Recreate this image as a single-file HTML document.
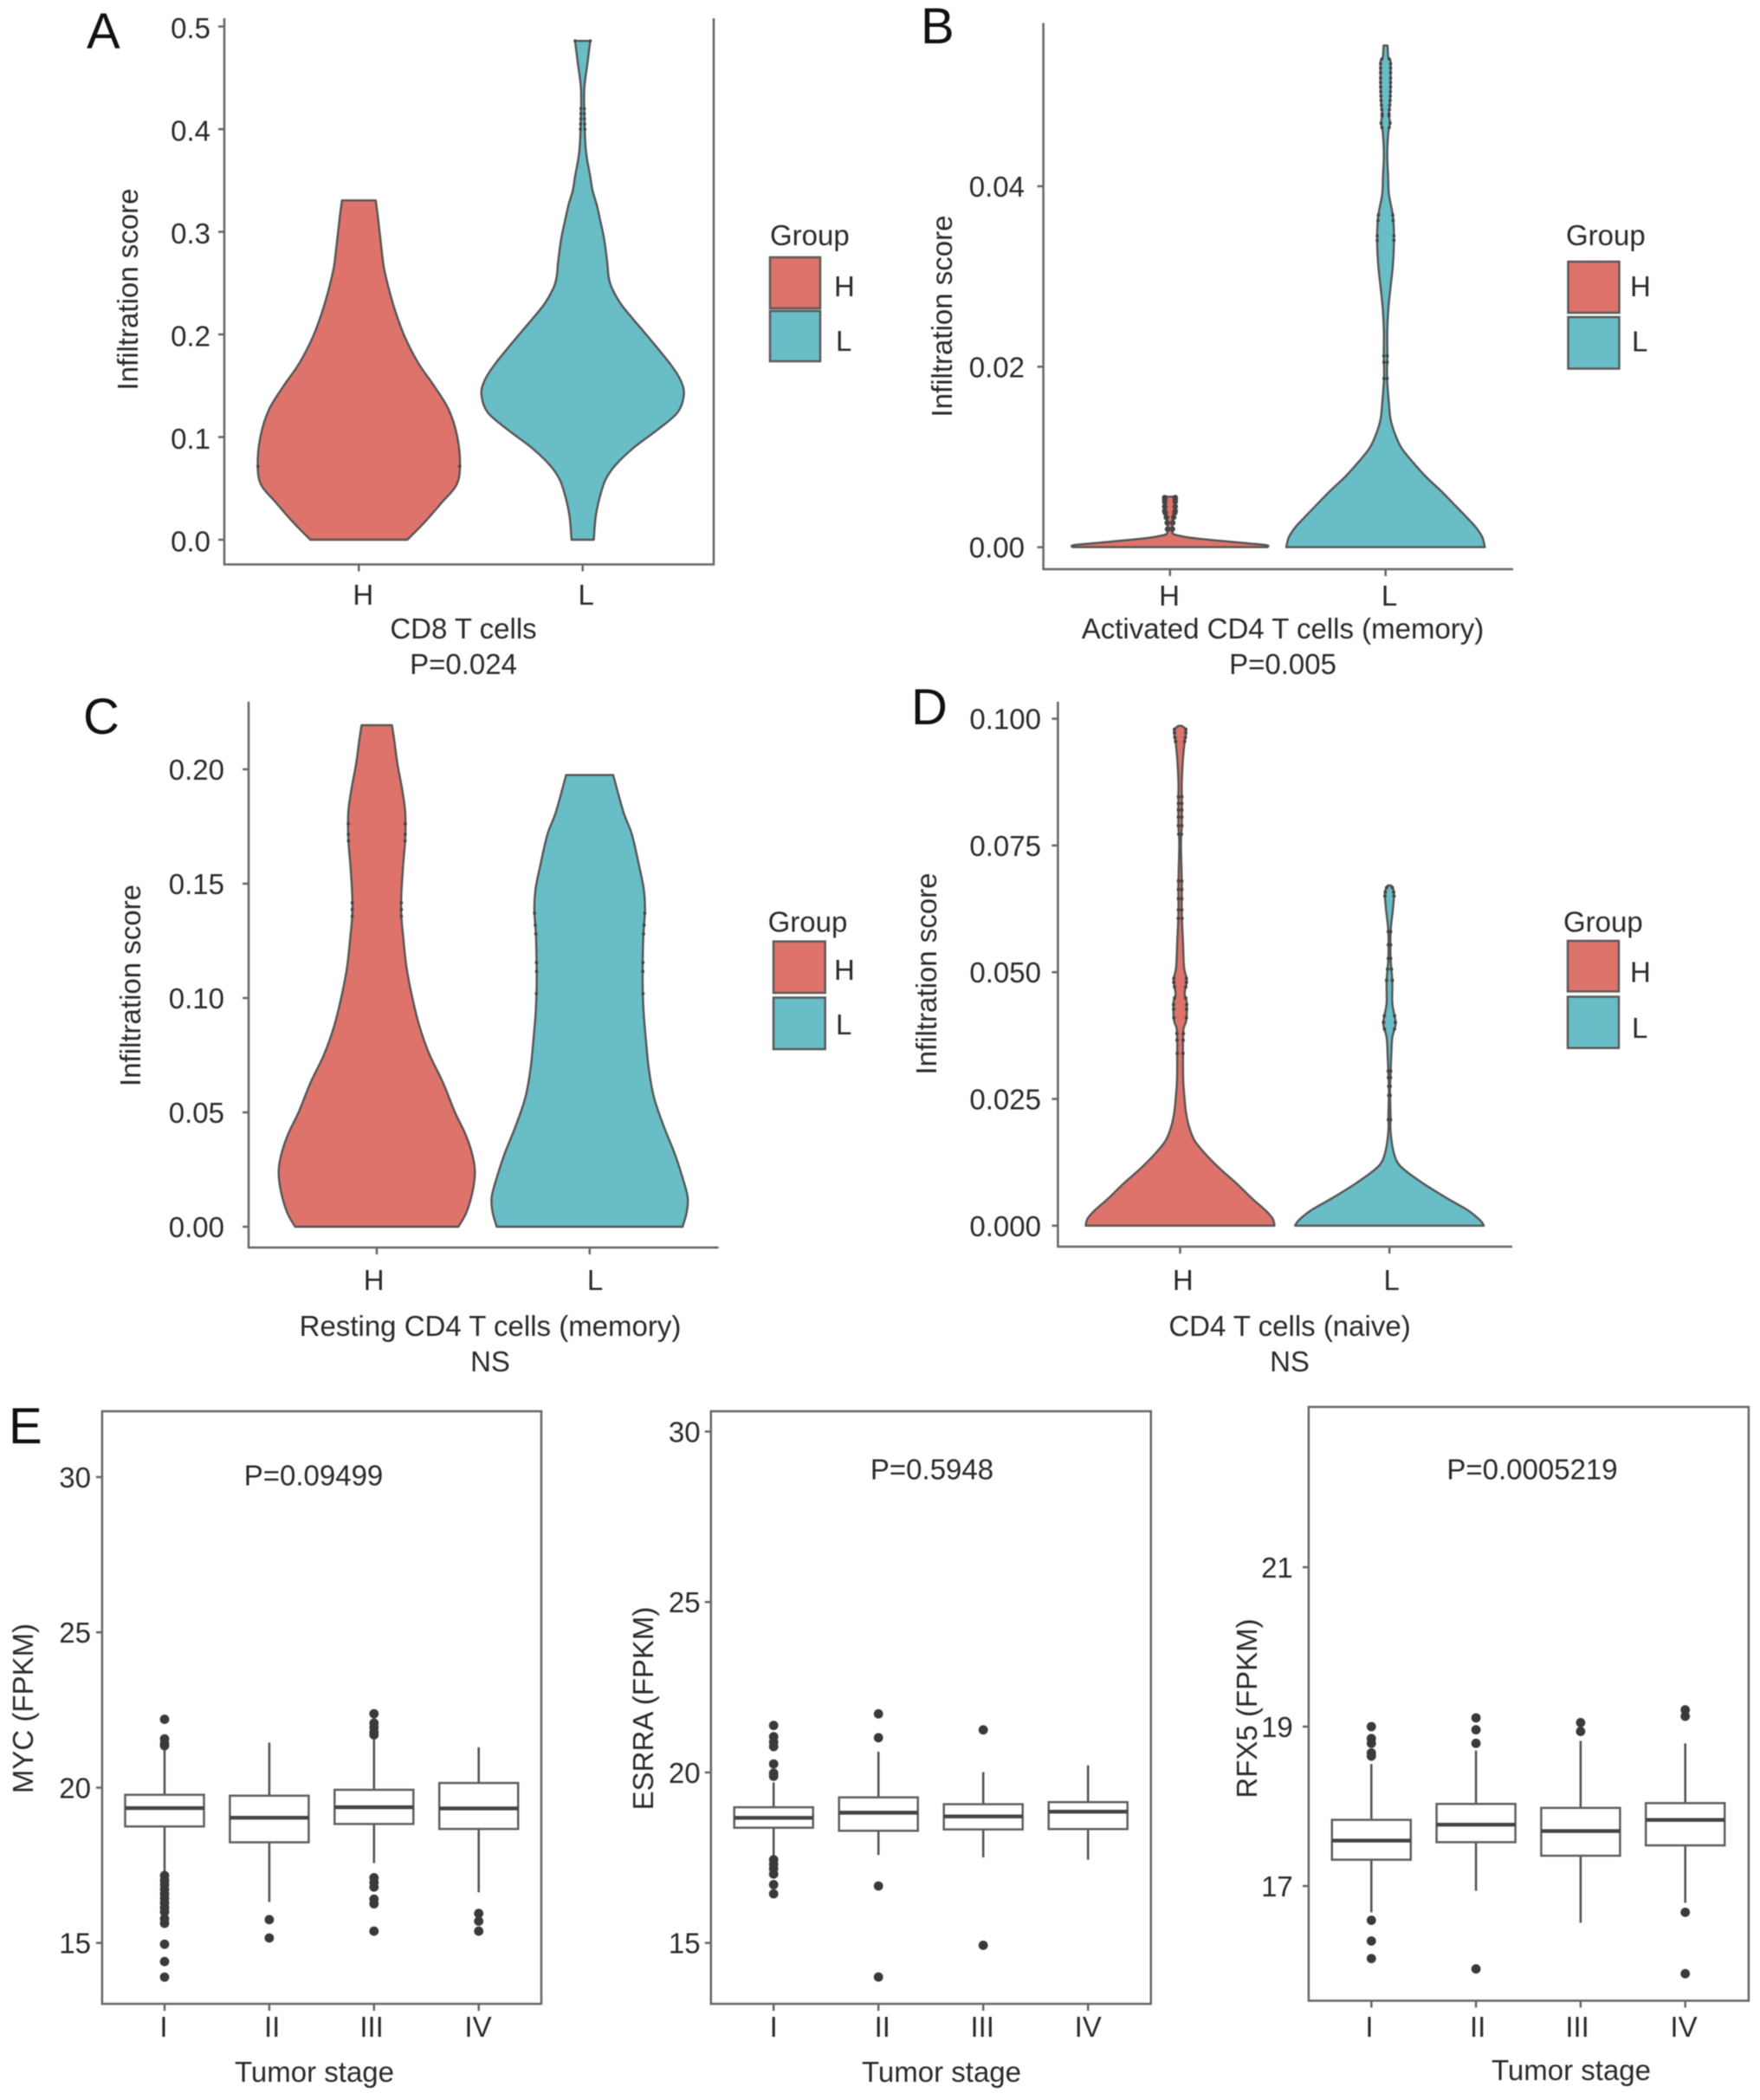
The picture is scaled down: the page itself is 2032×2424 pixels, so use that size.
<!DOCTYPE html>
<html lang="en">
<head>
<meta charset="utf-8">
<title>Immune infiltration violin plots and tumor stage box plots</title>
<style>
html,body{margin:0;padding:0;background:#fff;}
svg{display:block;filter:blur(0.6px);}
text{font-family:"Liberation Sans",Arial,sans-serif;font-size:33px;fill:#2b2b2b;}
.letter{font-size:58px;fill:#111;}
.axis{stroke:#666;stroke-width:2.5;fill:none;}
.mid{text-anchor:middle;}
.h{fill:#de736b;stroke:#5a5a5a;stroke-width:2.5;}
.l{fill:#69bdc6;stroke:#5a5a5a;stroke-width:2.5;}
</style>
</head>
<body>
<svg id="figure" width="2032" height="2424" viewBox="0 0 2032 2424" xmlns="http://www.w3.org/2000/svg">
<rect x="0" y="0" width="2032" height="2424" fill="#fff"/>

<text class="letter" x="100" y="56">A</text>
<text class="letter" x="1063" y="50">B</text>
<text class="letter" x="96" y="847">C</text>
<text class="letter" x="1052" y="836">D</text>
<text class="letter" x="10" y="1666">E</text>

<path class="axis" d="M259 21V651.5H824V21"/>
<path class="axis" d="M1204.6 26.5V657H1747"/>
<path class="axis" d="M287 810V1440H829.6"/>
<path class="axis" d="M1221.4 810V1439H1746"/>
<rect class="axis" x="117.9" y="1629" width="507.1" height="684"/>
<rect class="axis" x="820.8" y="1629" width="508" height="684"/>
<rect class="axis" x="1510.9" y="1624" width="508" height="685.4"/>

<text class="mid" transform="translate(159 334) rotate(-90)">Infiltration score</text>
<text class="mid" transform="translate(1099 365) rotate(-90)">Infiltration score</text>
<text class="mid" transform="translate(162 1137.5) rotate(-90)">Infiltration score</text>
<text class="mid" transform="translate(1081 1124) rotate(-90)">Infiltration score</text>
<text class="mid" transform="translate(38 1972) rotate(-90)">MYC (FPKM)</text>
<text class="mid" transform="translate(754 1972) rotate(-90)">ESRRA (FPKM)</text>
<text class="mid" transform="translate(1451 1972) rotate(-90)">RFX5 (FPKM)</text>

<text class="mid" x="535" y="737">CD8 T cells</text>
<text class="mid" x="535" y="778">P=0.024</text>
<text class="mid" x="1481" y="737">Activated CD4 T cells (memory)</text>
<text class="mid" x="1481" y="778">P=0.005</text>
<text class="mid" x="566" y="1542">Resting CD4 T cells (memory)</text>
<text class="mid" x="566" y="1583">NS</text>
<text class="mid" x="1489" y="1542">CD4 T cells (naive)</text>
<text class="mid" x="1489" y="1583">NS</text>

<text class="mid" x="363" y="2403">Tumor stage</text>
<text class="mid" x="1087" y="2403">Tumor stage</text>
<text class="mid" x="1814" y="2401">Tumor stage</text>
<text class="mid" x="362" y="1714.5">P=0.09499</text>
<text class="mid" x="1076" y="1707.7">P=0.5948</text>
<text class="mid" x="1769" y="1707.7">P=0.0005219</text>

<g>
<text x="889" y="283">Group</text>
<rect class="h" x="889" y="297" width="58" height="59"/>
<rect class="l" x="889" y="359" width="58" height="58"/>
<text x="963" y="342">H</text>
<text x="965" y="405">L</text>
</g>
<g>
<text x="1808" y="283">Group</text>
<rect class="h" x="1810.5" y="302" width="59" height="59"/>
<rect class="l" x="1810.5" y="366" width="59" height="59.5"/>
<text x="1882" y="342">H</text>
<text x="1884" y="405.6">L</text>
</g>
<g>
<text x="886.6" y="1075.5">Group</text>
<rect class="h" x="893" y="1086.7" width="59.7" height="59.3"/>
<rect class="l" x="893" y="1151.5" width="59.7" height="59.5"/>
<text x="963" y="1131">H</text>
<text x="965" y="1194">L</text>
</g>
<g>
<text x="1805" y="1075.5">Group</text>
<rect class="h" x="1810" y="1086" width="59" height="58.4"/>
<rect class="l" x="1810" y="1150.5" width="59" height="59.2"/>
<text x="1882" y="1133.5">H</text>
<text x="1884" y="1198">L</text>
</g>
</svg>

<script>
// ---- category and tick labels ----
const groupCategories = ['H', 'L'];
const stageCategories = ['I', 'II', 'III', 'IV'];
const ticksA = ['0.0', '0.1', '0.2', '0.3', '0.4', '0.5'];
const ticksB = ['0.00', '0.02', '0.04'];
const ticksC = ['0.00', '0.05', '0.10', '0.15', '0.20'];
const ticksD = ['0.000', '0.025', '0.050', '0.075', '0.100'];
const ticksE1 = ['15', '20', '25', '30'];
const ticksE2 = ['15', '20', '25', '30'];
const ticksE3 = ['17', '19', '21'];

// ---- violin profiles: score grid and relative density ----
const scoreAH = [0, .0169, .0366, .0535, .0732, .1013, .1266, .1491, .1716, .197, .2195, .242, .2645, .2842, .3123, .3306];
const densityAH = [.48, .649, .823, .966, 1, .971, .889, .749, .591, .457, .371, .303, .249, .223, .191, .167];
const scoreAL = [0, .0225, .0422, .0591, .0732, .09, .1069, .1238, .1407, .1548, .1716, .1998, .2279, .2448, .256, .2701, .2926, .3123, .3264, .3405, .354, .37, .384, .414, .44, .466, .486];
const densityAL = [.11, .129, .171, .229, .329, .509, .737, .937, 1, .971, .863, .629, .391, .291, .257, .243, .213, .171, .139, .097, .075, .045, .028, .017, .017, .05, .075];
const scoreBH = [0, .00022, .00048, .00096, .00128, .0015, .0021, .003, .004, .0056];
const densityBH = [.98, .97, .73, .27, .09, .03, .024, .03, .053, .053];
const scoreBL = [0, .0011, .0021, .003, .0046, .0062, .0078, .0094, .011, .0126, .0142, .0158, .0174, .019, .0215, .0239, .0264, .0288, .0313, .0342, .0367, .0391, .0411, .0435, .046, .047, .0479, .0494, .0509, .0538, .0543, .0556];
const densityBL = [1, .974, .916, .843, .703, .561, .407, .276, .16, .093, .05, .035, .023, .015, .018, .017, .028, .05, .074, .085, .074, .034, .026, .017, .028, .045, .034, .045, .05, .05, .028, .02];
const scoreCH = [0, .0061, .0149, .0237, .0313, .0402, .0503, .0629, .0755, .0881, .1008, .1134, .126, .1361, .145, .1576, .1696, .1812, .1909, .2025, .2122, .2193];
const densityCH = [.832, .912, .974, 1, .975, .906, .794, .676, .535, .432, .359, .303, .271, .25, .25, .268, .29, .29, .26, .21, .18, .155];
const scoreCL = [0, .0061, .0124, .0187, .0313, .0439, .0566, .0692, .0818, .0944, .1071, .126, .1386, .1475, .1576, .1716, .1812, .1975];
const densityCL = [.947, .988, 1, .966, .872, .755, .655, .602, .573, .549, .54, .546, .564, .552, .505, .43, .345, .24];
const scoreDH = [0, .0014, .0031, .0054, .0083, .0111, .014, .0168, .0197, .0225, .0253, .0282, .031, .033, .0353, .0388, .0405, .044, .0458, .0484, .051, .0562, .0615, .0676, .0754, .0789, .085, .0876, .092, .0955, .0968, .0979, .0986];
const densityDH = [1, .98, .9, .76, .6, .43, .275, .153, .092, .061, .046, .034, .031, .031, .03, .036, .065, .07, .048, .07, .042, .03, .018, .018, .009, .018, .018, .018, .03, .048, .06, .06, .018];
const scoreDL = [0, .0011, .0031, .0054, .0083, .0111, .0128, .0151, .0174, .0197, .0214, .0266, .0301, .0339, .0371, .0397, .0414, .044, .0484, .0527, .058, .0623, .065, .0663, .0671];
const densityDL = [1, .96, .825, .61, .36, .153, .076, .037, .018, .009, .012, .006, .012, .02, .03, .065, .054, .03, .03, .012, .012, .036, .048, .042, .018];

// ---- individual points drawn at the violin edges ----
const pointsAH = [.0715];
const pointsAL = [.486, .42, .415, .41, .405, .40];
const pointsBH = [.0055, .0053, .005, .0045, .004, .0038, .0033, .0027, .002];
const pointsBL = [.0541, .0536, .0531, .0526, .052, .0515, .051, .0505, .05, .0495, .049, .0485, .048, .0478, .047, .0465, .0368, .0362, .0345, .034, .0212, .0205, .0187];
const pointsCH = [.1762, .1716, .1687, .1416, .1387, .1358];
const pointsCL = [.1371, .1319, .128, .1155, .1116, .1019];
const pointsDH = [.0979, .0972, .0963, .0955, .0846, .0833, .082, .0806, .0789, .0772, .068, .0663, .0645, .0623, .0606, .0488, .048, .0471, .0449, .0436, .0427, .041, .0379, .0366, .034];
const pointsDL = [.0667, .0658, .065, .058, .0554, .0527, .0506, .0484, .0414, .0401, .0388, .0305, .0292, .0275, .0257, .0209];

// ---- box plot summaries per stage: [I, II, III, IV] ----
const whiskerHighE1 = [21.28, 21.45, 21.57, 21.3];
const q3E1 = [19.77, 19.74, 19.93, 20.15];
const medianE1 = [19.34, 19.03, 19.37, 19.33];
const q1E1 = [18.75, 18.24, 18.83, 18.67];
const whiskerLowE1 = [17.24, 16.32, 17.57, 16.63];
const outliersE1StageI = [22.2, 21.57, 21.42, 21.35, 17.17, 17.02, 16.88, 16.73, 16.58, 16.44, 16.29, 16.14, 16, 15.78, 15.63, 14.96, 14.4, 13.9];
const outliersE1StageII = [15.75, 15.16];
const outliersE1StageIII = [22.38, 22.08, 21.94, 21.79, 21.7, 17.1, 16.95, 16.8, 16.41, 16.26, 15.38];
const outliersE1StageIV = [15.95, 15.7, 15.38];

const whiskerHighE2 = [19.71, 20.61, 20.01, 20.21];
const q3E2 = [18.98, 19.27, 19.07, 19.13];
const medianE2 = [18.67, 18.82, 18.71, 18.85];
const q1E2 = [18.38, 18.29, 18.33, 18.34];
const whiskerLowE2 = [17.51, 17.58, 17.51, 17.44];
const outliersE2StageI = [21.38, 21.05, 20.89, 20.76, 20.25, 19.98, 19.89, 17.44, 17.31, 17.18, 17.02, 16.71, 16.44];
const outliersE2StageII = [21.72, 21.02, 16.67, 14];
const outliersE2StageIII = [21.25, 14.93];
const outliersE2StageIV = [];

const whiskerHighE3 = [18.53, 18.7, 18.82, 18.79];
const q3E3 = [17.83, 18.03, 17.98, 18.04];
const medianE3 = [17.57, 17.77, 17.69, 17.83];
const q1E3 = [17.33, 17.55, 17.38, 17.51];
const whiskerLowE3 = [16.67, 16.94, 16.54, 16.79];
const outliersE3StageI = [19, 18.85, 18.79, 18.67, 18.63, 16.57, 16.31, 16.09];
const outliersE3StageII = [19.11, 18.96, 18.79, 15.96];
const outliersE3StageIII = [19.05, 18.94];
const outliersE3StageIV = [19.21, 19.13, 16.67, 15.9];

const figure = document.getElementById('figure');
const NS = 'http://www.w3.org/2000/svg';

function add(parent, tag, name, attrs, text) {
  const el = document.createElementNS(NS, tag);
  
  
  for (const key in attrs) el.setAttribute(key, attrs[key]);
  if (text !== undefined) el.textContent = text;
  parent.appendChild(el);
  return el;
}

function densityAt(scores, densities, v) {
  for (let i = 1; i < scores.length; i++) {
    if (v <= scores[i]) {
      const t = (v - scores[i - 1]) / (scores[i] - scores[i - 1]);
      return densities[i - 1] + t * (densities[i] - densities[i - 1]);
    }
  }
  return densities[densities.length - 1];
}

// Smooth side of a violin through the profile points.
function smoothSegments(pts) {
  let d = '';
  for (let i = 0; i < pts.length - 1; i++) {
    const p0 = pts[Math.max(i - 1, 0)], p1 = pts[i], p2 = pts[i + 1], p3 = pts[Math.min(i + 2, pts.length - 1)];
    const k = 1 / 6;
    d += 'C' + (p1[0] + (p2[0] - p0[0]) * k).toFixed(2) + ' ' + (p1[1] + (p2[1] - p0[1]) * k).toFixed(2) + ' ' +
      (p2[0] - (p3[0] - p1[0]) * k).toFixed(2) + ' ' + (p2[1] - (p3[1] - p1[1]) * k).toFixed(2) + ' ' +
      p2[0].toFixed(2) + ' ' + p2[1].toFixed(2);
  }
  return d;
}

function drawYAxis(g, prefix, ticks, axisX, labelEnd, yOf, labelDy) {
  ticks.forEach(function (label) {
    const y = yOf(parseFloat(label));
    add(g, 'line', prefix + '-y-tick', {x1: axisX - 7, x2: axisX, y1: y, y2: y, stroke: '#666', 'stroke-width': 2.5});
    add(g, 'text', prefix + '-y-tick-label', {x: labelEnd, y: y + 12 + labelDy, 'text-anchor': 'end'}, label);
  });
}

function drawXAxis(g, prefix, cats, xOf, axisY, labelDx, labelY) {
  cats.forEach(function (label, i) {
    add(g, 'line', prefix + '-x-tick', {x1: xOf(i), x2: xOf(i), y1: axisY, y2: axisY + 8, stroke: '#666', 'stroke-width': 2.5});
    add(g, 'text', prefix + '-x-tick-label', {x: xOf(i) + labelDx[i], y: labelY, 'text-anchor': 'middle'}, label);
  });
}

function drawViolinPanel(p) {
  const g = add(figure, 'g', 'panel-' + p.id, {});
  const xOf = function (i) { return p.x0 + i * p.step; };
  const yOf = function (v) { return p.y0 - v * p.yScale; };
  drawYAxis(g, 'panel-' + p.id, p.ticks, p.axisX, p.labelEnd, yOf, p.labelDy);
  drawXAxis(g, 'panel-' + p.id, groupCategories, xOf, p.axisY, p.labelDx, p.labelY);
  p.series.forEach(function (s, i) {
    const cx = xOf(i);
    const right = s.scores.map(function (v, k) { return [cx + s.densities[k] * p.halfWidth, yOf(v)]; });
    const left = s.scores.map(function (v, k) { return [cx - s.densities[k] * p.halfWidth, yOf(v)]; }).reverse();
    const d = 'M' + right[0][0].toFixed(2) + ' ' + right[0][1].toFixed(2) + smoothSegments(right) +
      'L' + left[0][0].toFixed(2) + ' ' + left[0][1].toFixed(2) + smoothSegments(left) + 'Z';
    add(g, 'path', 'violin-' + groupCategories[i].toLowerCase(), {d: d, fill: s.fill, stroke: '#555', 'stroke-width': 2.4, 'stroke-linejoin': 'round'});
    s.points.forEach(function (v) {
      const w = densityAt(s.scores, s.densities, v) * p.halfWidth;
      add(g, 'circle', 'violin-point', {cx: cx - w, cy: yOf(v), r: s.pointRadius, fill: '#444'});
      add(g, 'circle', 'violin-point', {cx: cx + w, cy: yOf(v), r: s.pointRadius, fill: '#444'});
    });
  });
}

function drawBoxPanel(p) {
  const g = add(figure, 'g', 'panel-' + p.id, {});
  const xOf = function (i) { return p.x0 + i * p.step; };
  const yOf = function (v) { return p.yBase - (v - p.vBase) * p.yScale; };
  drawYAxis(g, 'panel-' + p.id, p.ticks, p.axisX, p.labelEnd, yOf, 0);
  drawXAxis(g, 'panel-' + p.id, stageCategories, xOf, p.axisY, p.labelDx, 2351);
  stageCategories.forEach(function (stage, i) {
    const cx = xOf(i), hw = p.boxWidth / 2;
    const name = stage.toLowerCase();
    add(g, 'line', 'whisker-' + name, {x1: cx, x2: cx, y1: yOf(p.hi[i]), y2: yOf(p.q3[i]), stroke: '#555', 'stroke-width': 2.6});
    add(g, 'line', 'whisker-' + name, {x1: cx, x2: cx, y1: yOf(p.q1[i]), y2: yOf(p.lo[i]), stroke: '#555', 'stroke-width': 2.6});
    add(g, 'rect', 'box-' + name, {x: cx - hw, y: yOf(p.q3[i]), width: p.boxWidth, height: yOf(p.q1[i]) - yOf(p.q3[i]), fill: '#fff', stroke: '#5f5f5f', 'stroke-width': 2.5});
    add(g, 'line', 'median-' + name, {x1: cx - hw, x2: cx + hw, y1: yOf(p.med[i]), y2: yOf(p.med[i]), stroke: '#444', 'stroke-width': 4.4});
    p.out[i].forEach(function (v) {
      add(g, 'circle', 'outlier-' + name, {cx: cx, cy: yOf(v), r: 5.4, fill: '#3a3a3a'});
    });
  });
}

drawViolinPanel({id: 'a', x0: 414.3, step: 258.4, y0: 623, yScale: 1184.8, halfWidth: 116.8,
  axisX: 259, axisY: 651.5, labelEnd: 243, labelY: 698, labelDx: [5, 4], labelDy: 1.5, ticks: ticksA,
  series: [
    {scores: scoreAH, densities: densityAH, points: pointsAH, fill: '#de736b', pointRadius: 1.8},
    {scores: scoreAL, densities: densityAL, points: pointsAL, fill: '#69bdc6', pointRadius: 1.8}
  ]});
drawViolinPanel({id: 'b', x0: 1350.8, step: 248.9, y0: 631.6, yScale: 10415, halfWidth: 114.7,
  axisX: 1204.6, axisY: 657, labelEnd: 1183, labelY: 699, labelDx: [-0.8, 4.3], labelDy: 0, ticks: ticksB,
  series: [
    {scores: scoreBH, densities: densityBH, points: pointsBH, fill: '#de736b', pointRadius: 3.2},
    {scores: scoreBL, densities: densityBL, points: pointsBL, fill: '#69bdc6', pointRadius: 1.9}
  ]});
drawViolinPanel({id: 'c', x0: 435, step: 245.8, y0: 1416, yScale: 2640, halfWidth: 113.3,
  axisX: 287, axisY: 1440, labelEnd: 259, labelY: 1489, labelDx: [-3.3, 6.3], labelDy: 0, ticks: ticksC,
  series: [
    {scores: scoreCH, densities: densityCH, points: pointsCH, fill: '#de736b', pointRadius: 1.9},
    {scores: scoreCL, densities: densityCL, points: pointsCL, fill: '#69bdc6', pointRadius: 1.9}
  ]});
drawViolinPanel({id: 'd', x0: 1362.5, step: 241.7, y0: 1414.8, yScale: 5852, halfWidth: 109,
  axisX: 1221.4, axisY: 1439, labelEnd: 1202, labelY: 1489, labelDx: [3.3, 2.5], labelDy: 0, ticks: ticksD,
  series: [
    {scores: scoreDH, densities: densityDH, points: pointsDH, fill: '#de736b', pointRadius: 2},
    {scores: scoreDL, densities: densityDL, points: pointsDL, fill: '#69bdc6', pointRadius: 2}
  ]});

drawBoxPanel({id: 'e1', x0: 190, step: 120.9, boxWidth: 91, yBase: 2242.7, vBase: 15, yScale: 35.85,
  axisX: 117.9, axisY: 2313, labelEnd: 105, labelDx: [-1, 3.3, -2.7, -0.7], ticks: ticksE1,
  hi: whiskerHighE1, q3: q3E1, med: medianE1, q1: q1E1, lo: whiskerLowE1,
  out: [outliersE1StageI, outliersE1StageII, outliersE1StageIII, outliersE1StageIV]});
drawBoxPanel({id: 'e2', x0: 893.2, step: 121, boxWidth: 91, yBase: 2242.7, vBase: 15, yScale: 39.35,
  axisX: 820.8, axisY: 2313, labelEnd: 808.6, labelDx: [0, 4.6, -1, 0], ticks: ticksE2,
  hi: whiskerHighE2, q3: q3E2, med: medianE2, q1: q1E2, lo: whiskerLowE2,
  out: [outliersE2StageI, outliersE2StageII, outliersE2StageIII, outliersE2StageIV]});
drawBoxPanel({id: 'e3', x0: 1583.3, step: 120.8, boxWidth: 91, yBase: 2177, vBase: 17, yScale: 92,
  axisX: 1510.9, axisY: 2309.4, labelEnd: 1492.8, labelDx: [-2.3, 2.1, -3.8, -1.7], ticks: ticksE3,
  hi: whiskerHighE3, q3: q3E3, med: medianE3, q1: q1E3, lo: whiskerLowE3,
  out: [outliersE3StageI, outliersE3StageII, outliersE3StageIII, outliersE3StageIV]});
</script>
</body>
</html>
